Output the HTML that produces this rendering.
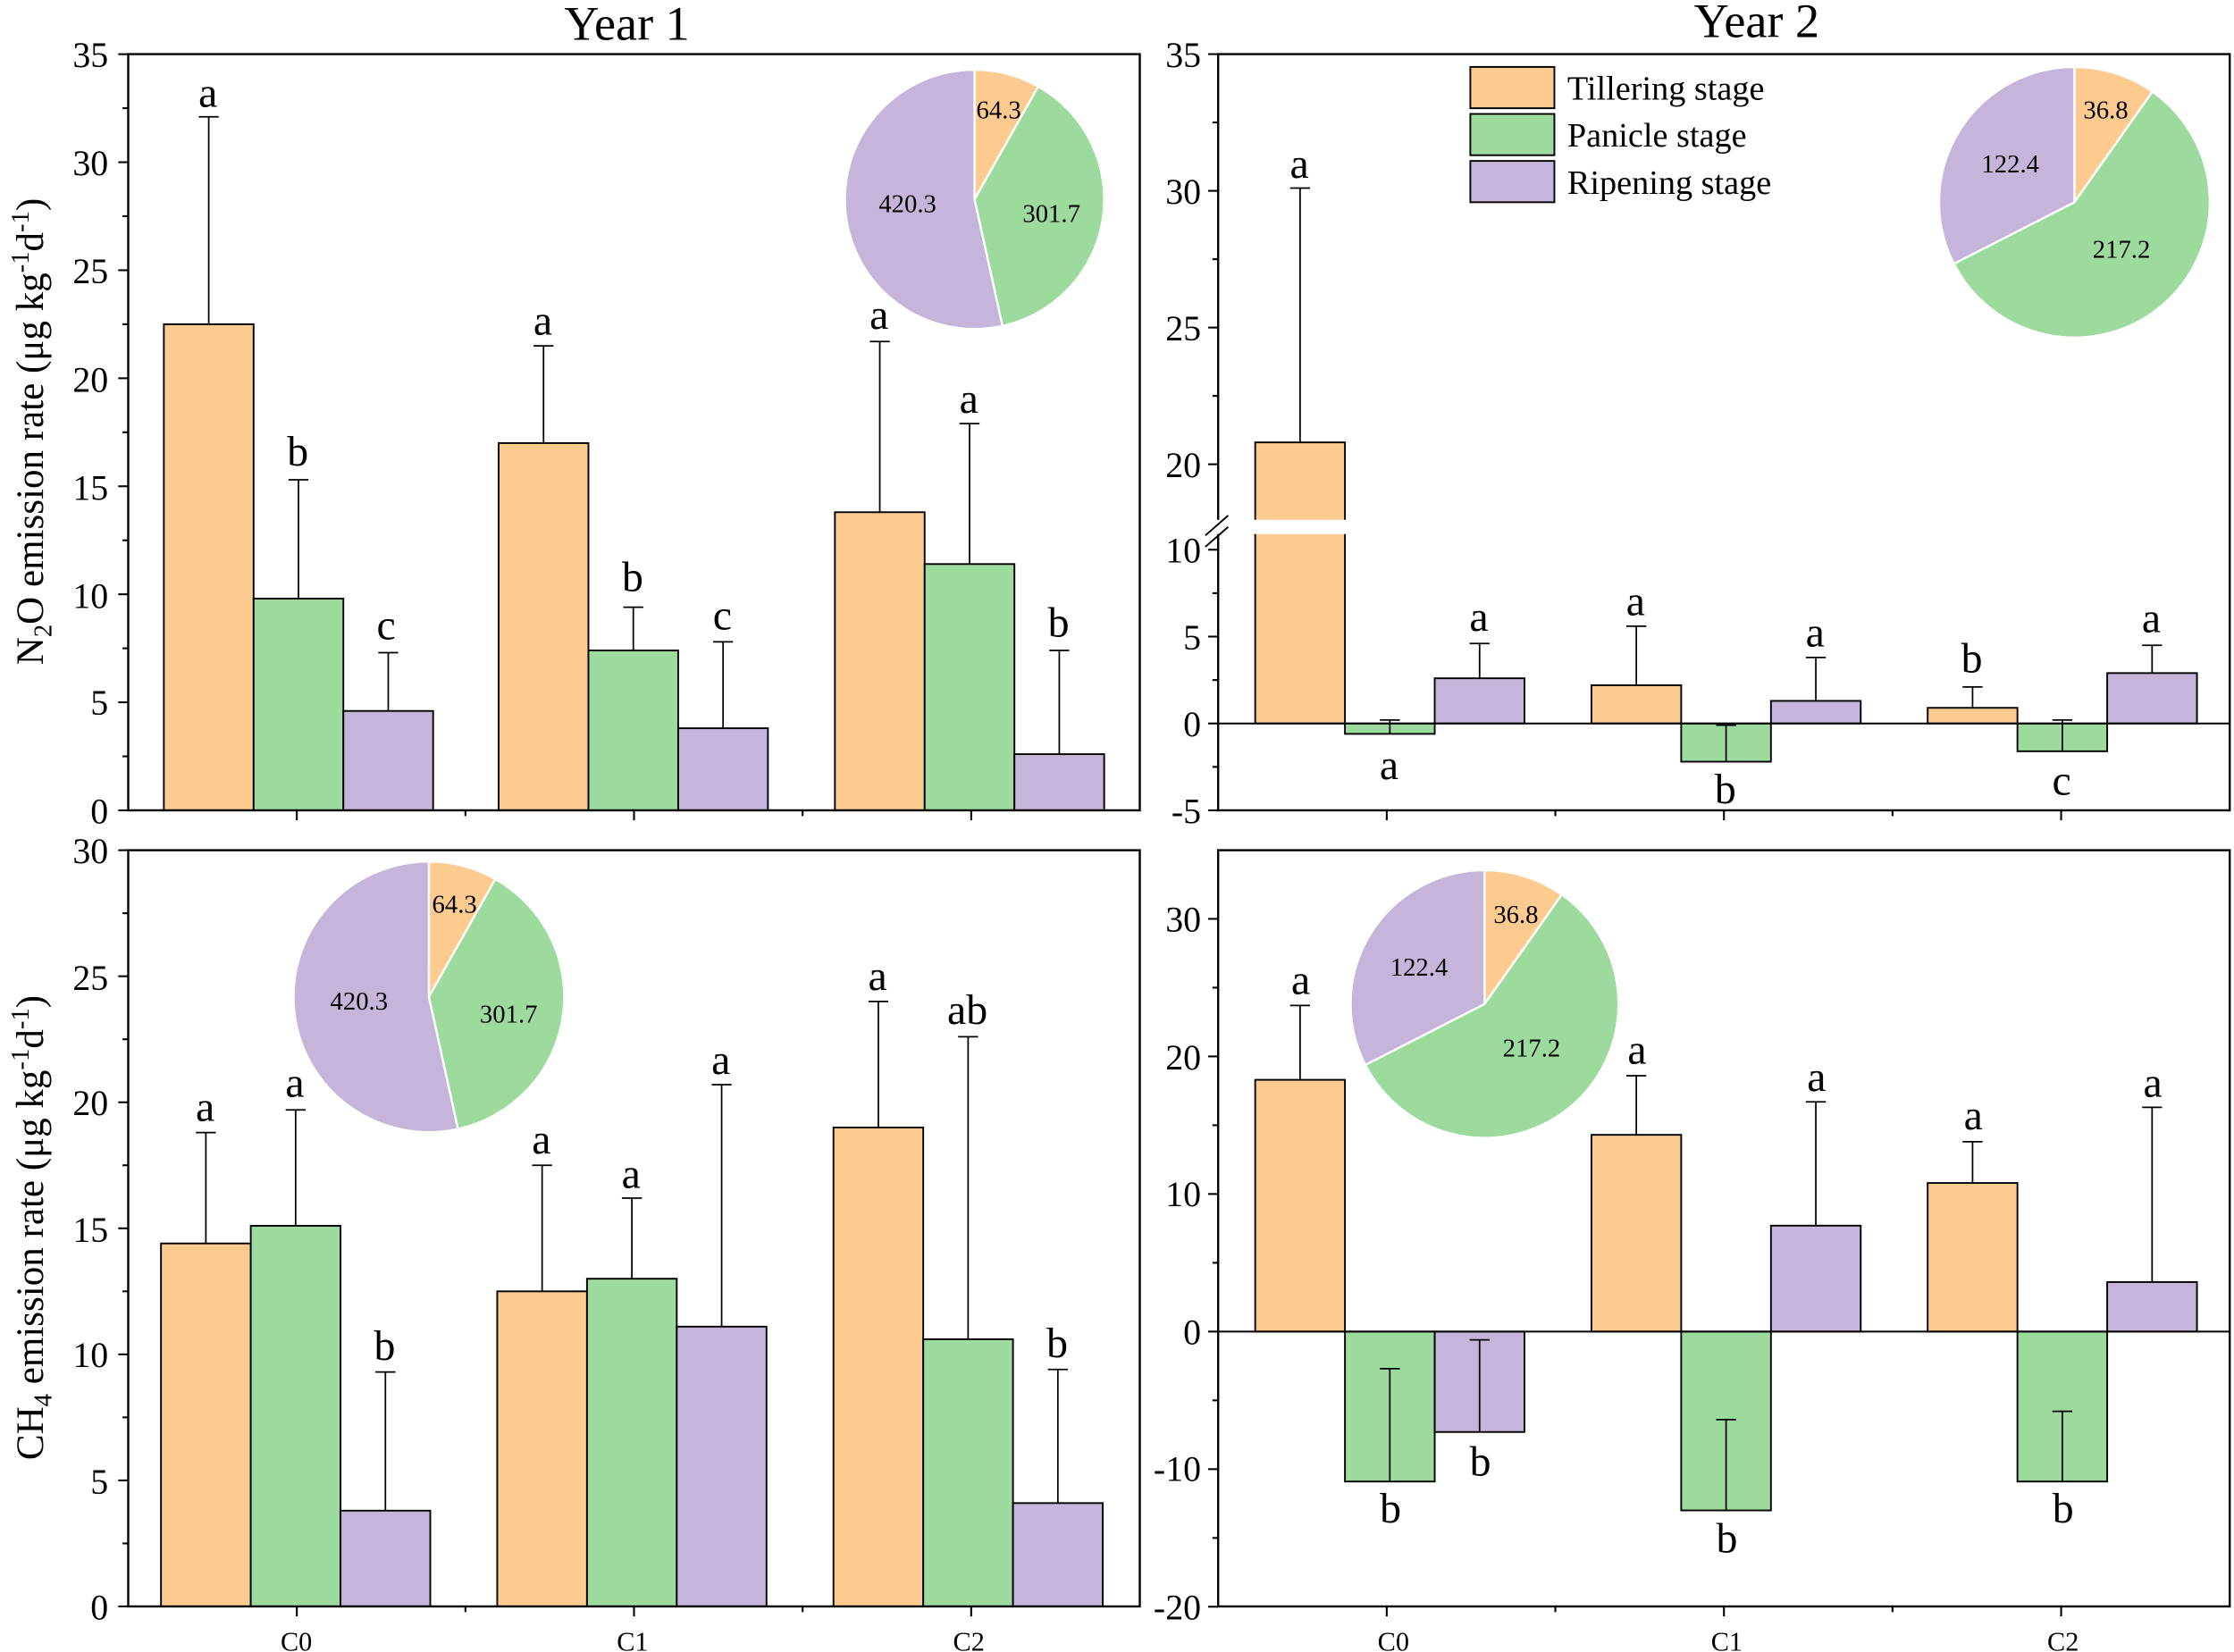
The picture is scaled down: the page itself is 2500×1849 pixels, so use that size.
<!DOCTYPE html>
<html><head><meta charset="utf-8"><style>
html,body{margin:0;padding:0;background:#fff}
svg{display:block}
svg text, svg tspan{font-family:"Liberation Serif","DejaVu Serif",serif !important;fill:#000}
</style></head><body>
<svg id="s" width="2500" height="1849" viewBox="0 0 1568 1160" preserveAspectRatio="none" xmlns="http://www.w3.org/2000/svg" font-family="Liberation Serif, DejaVu Serif, serif" style="font-family:'Liberation Serif','DejaVu Serif',serif">
<g id="g"></g>
<g font-size="34" text-anchor="middle">
<text x="440" y="28">Year 1</text><text x="1233" y="26">Year 2</text>
</g>
<g font-size="25" text-anchor="end">
<text x="76" y="47">35</text><text x="76" y="123">30</text><text x="76" y="199">25</text><text x="76" y="275">20</text><text x="76" y="351">15</text><text x="76" y="427">10</text><text x="76" y="502">5</text><text x="76" y="578">0</text>
<text x="843" y="47">35</text><text x="843" y="143">30</text><text x="843" y="239">25</text><text x="843" y="335">20</text><text x="843" y="395">10</text><text x="843" y="456">5</text><text x="843" y="517">0</text><text x="843" y="578">-5</text>
<text x="76" y="606">30</text><text x="76" y="695">25</text><text x="76" y="783">20</text><text x="76" y="872">15</text><text x="76" y="960">10</text><text x="76" y="1049">5</text><text x="76" y="1137">0</text>
<text x="843" y="654">30</text><text x="843" y="751">20</text><text x="843" y="847">10</text><text x="843" y="944">0</text><text x="843" y="1040">-10</text><text x="843" y="1137">-20</text>
</g>
<g font-size="19" text-anchor="middle">
<text x="208" y="1159">C0</text><text x="444" y="1159">C1</text><text x="680" y="1159">C2</text>
<text x="978" y="1159">C0</text><text x="1212" y="1159">C1</text><text x="1448" y="1159">C2</text>
</g>
<text font-size="27" transform="translate(30,303) rotate(-90)" text-anchor="middle">N<tspan font-size="18" dy="6">2</tspan><tspan dy="-6">O emission rate (μg kg</tspan><tspan font-size="18" dy="-10">-1</tspan><tspan dy="10">d</tspan><tspan font-size="18" dy="-10">-1</tspan><tspan dy="10">)</tspan></text>
<text font-size="27" transform="translate(30,862) rotate(-90)" text-anchor="middle">CH<tspan font-size="18" dy="6">4</tspan><tspan dy="-6"> emission rate (μg kg</tspan><tspan font-size="18" dy="-10">-1</tspan><tspan dy="10">d</tspan><tspan font-size="18" dy="-10">-1</tspan><tspan dy="10">)</tspan></text>
<g font-size="30" text-anchor="middle">
<text x="146" y="75">a</text><text x="209" y="327">b</text><text x="271" y="449">c</text>
<text x="381" y="235">a</text><text x="444" y="415">b</text><text x="507" y="442">c</text>
<text x="617" y="231">a</text><text x="680" y="290">a</text><text x="743" y="447">b</text>
<text x="912" y="125">a</text><text x="975" y="547">a</text><text x="1038" y="443">a</text>
<text x="1148" y="432">a</text><text x="1211" y="564">b</text><text x="1274" y="454">a</text>
<text x="1384" y="472">b</text><text x="1447" y="558">c</text><text x="1510" y="444">a</text>
<text x="144" y="787">a</text><text x="207" y="770">a</text><text x="270" y="955">b</text>
<text x="380" y="810">a</text><text x="443" y="834">a</text><text x="506" y="754">a</text>
<text x="616" y="695">a</text><text x="679" y="719">ab</text><text x="742" y="953">b</text>
<text x="913" y="698">a</text><text x="976" y="1069">b</text><text x="1039" y="1036">b</text>
<text x="1149" y="747">a</text><text x="1212" y="1090">b</text><text x="1275" y="766">a</text>
<text x="1385" y="793">a</text><text x="1448" y="1069">b</text><text x="1511" y="770">a</text>
</g>
<g font-size="18" text-anchor="middle">
<text x="701" y="83">64.3</text><text x="738" y="156">301.7</text><text x="637" y="149">420.3</text>
<text x="1478" y="83">36.8</text><text x="1489" y="181">217.2</text><text x="1411" y="121">122.4</text>
<text x="319" y="641">64.3</text><text x="357" y="718">301.7</text><text x="252" y="709">420.3</text>
<text x="1064" y="648">36.8</text><text x="1075" y="742">217.2</text><text x="996" y="685">122.4</text>
</g>
<g font-size="24">
<text x="1100" y="70">Tillering stage</text><text x="1100" y="103">Panicle stage</text><text x="1100" y="136">Ripening stage</text>
</g>
</svg>
<script>
var O="#FDCB8F",G="#9DDA9D",P="#C6B5DA";
var h="";
function L(x1,y1,x2,y2,w){h+='<line x1="'+x1+'" y1="'+y1+'" x2="'+x2+'" y2="'+y2+'" stroke="#000" stroke-width="'+(w||1.3)+'"/>';}
function R(x,y,w,hh,c){h+='<rect x="'+x+'" y="'+y+'" width="'+w+'" height="'+hh+'" fill="'+c+'" stroke="#000" stroke-width="1.2"/>';}
function pie(cx,cy,r,vals){var t=vals[0]+vals[1]+vals[2],a=0,cs=[O,G,P];for(var i=0;i<3;i++){var b=a+vals[i]/t*2*Math.PI;var x1=cx+r*Math.sin(a),y1=cy-r*Math.cos(a),x2=cx+r*Math.sin(b),y2=cy-r*Math.cos(b);h+='<path d="M'+cx+','+cy+' L'+x1+','+y1+' A'+r+','+r+' 0 '+((b-a)>Math.PI?1:0)+' 1 '+x2+','+y2+' Z" fill="'+cs[i]+'" stroke="#fff" stroke-width="1.5"/>';a=b;}}
function panel(x0,x1,y0,y1,ticks,minor,yf,groups,zero){
 var cs=[O,G,P];
 groups.forEach(function(g){g.b.forEach(function(b,i){var x=g.x+i*63,w=63;var yv=yf(b[0]),yz=yf(0);R(x,Math.min(yv,yz),w,Math.abs(yz-yv),cs[i]);var ye=yf(b[1]),cx=x+w/2;L(cx,yv,cx,ye,1.1);L(cx-7,ye,cx+7,ye,1.1);});});
 if(zero)L(x0,yf(0),x1,yf(0),1.3);
 h+='<rect x="'+x0+'" y="'+y0+'" width="'+(x1-x0)+'" height="'+(y1-y0)+'" fill="none" stroke="#000" stroke-width="1.5"/>';
 ticks.forEach(function(v){var y=yf(v);L(x0-7,y,x0,y);});
 minor.forEach(function(v){var y=yf(v);L(x0-4,y,x0,y);});
 var cx=[x0+(x1-x0)/6,x0+(x1-x0)/2,x0+5*(x1-x0)/6];
 cx.forEach(function(c){L(c,y1,c,y1+7);});
 [x0+(x1-x0)/3,x0+2*(x1-x0)/3].forEach(function(c){L(c,y1,c,y1+4);});
}
var f1=function(v){return 569-v*15.17};
panel(90,800,38,569,[0,5,10,15,20,25,30,35],[2.5,7.5,12.5,17.5,22.5,27.5,32.5],f1,
 [{x:115,b:[[22.5,32.1],[9.8,15.3],[4.6,7.3]]},{x:350,b:[[17.0,21.5],[7.4,9.4],[3.8,7.8]]},{x:586,b:[[13.8,21.7],[11.4,17.9],[2.6,7.4]]}]);
var f2=function(v){return v>=15?326-(v-20)*19.2:508-v*12.2};
panel(855,1565,38,569,[-5,0,5,10,20,25,30,35],[-2.5,2.5,7.5,22.5,27.5,32.5],f2,
 [{x:881,b:[[20.8,30.1],[-0.6,0.2],[2.6,4.6]]},{x:1117,b:[[2.2,5.6],[-2.2,-0.1],[1.3,3.8]]},{x:1353,b:[[0.9,2.1],[-1.6,0.2],[2.9,4.5]]}],true);
h+='<rect x="846" y="365" width="100" height="10" fill="#fff"/>';
L(846,376,862,362,1.2);L(846,384,862,370,1.2);
var f3=function(v){return 1128-v*17.7};
panel(90,800,597,1128,[0,5,10,15,20,25,30],[2.5,7.5,12.5,17.5,22.5,27.5],f3,
 [{x:113,b:[[14.4,18.8],[15.1,19.7],[3.8,9.3]]},{x:349,b:[[12.5,17.5],[13.0,16.2],[11.1,20.7]]},{x:585,b:[[19.0,24.0],[10.6,22.6],[4.1,9.4]]}]);
var f4=function(v){return 935-v*9.66};
panel(855,1565,597,1128,[-20,-10,0,10,20,30],[-15,-5,5,15,25],f4,
 [{x:881,b:[[18.3,23.7],[-10.9,-2.7],[-7.3,-0.6]]},{x:1117,b:[[14.3,18.6],[-13.0,-6.4],[7.7,16.7]]},{x:1353,b:[[10.8,13.8],[-10.9,-5.8],[3.6,16.3]]}],true);
pie(684,140,91,[64.3,301.7,420.3]);
pie(1456,142,95,[36.8,217.2,122.4]);
pie(301,700,95,[64.3,301.7,420.3]);
pie(1042,705,94,[36.8,217.2,122.4]);
R(1032,47,59,29,O);R(1032,80,59,29,G);R(1032,113,59,29,P);
document.getElementById("g").innerHTML=h;
</script>
</body></html>
